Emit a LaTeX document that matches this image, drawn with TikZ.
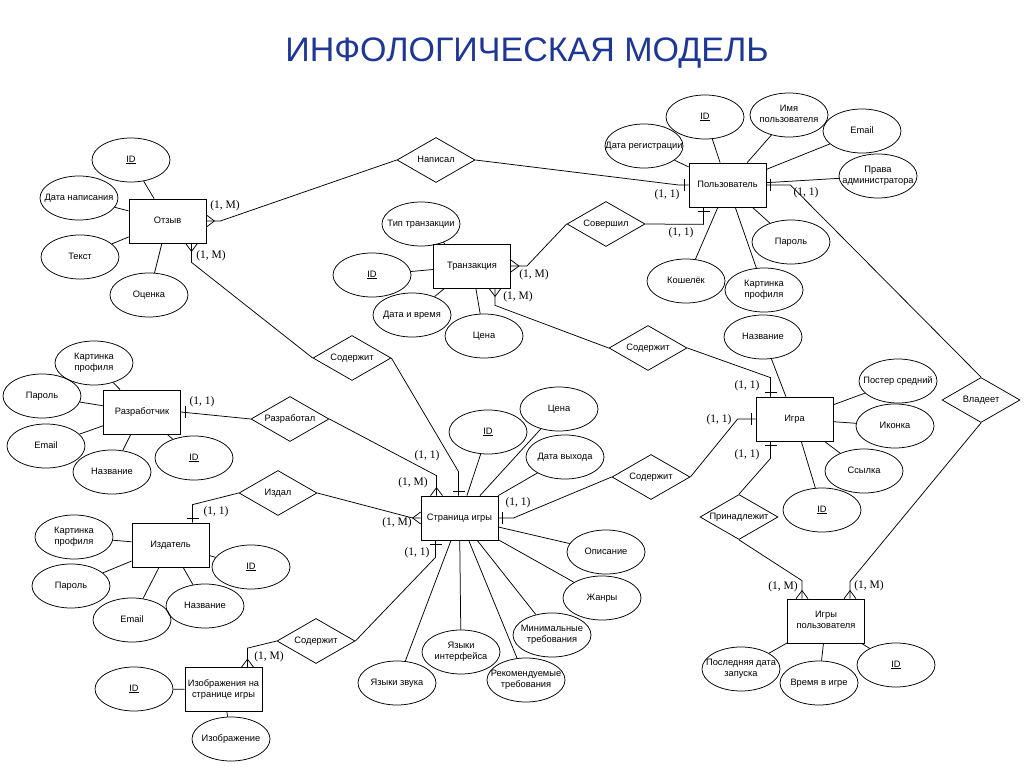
\documentclass[tikz,border=0pt]{standalone}
\usepackage{fontspec}
\setmainfont{Liberation Sans}
\newfontfamily\cardfont{Liberation Serif}
\usetikzlibrary{shapes.geometric,calc}
\definecolor{titleblue}{RGB}{30,55,150}
\newcommand{\erlabel}[1]{\makebox[0pt]{\begin{tabular}{@{}c@{}}#1\end{tabular}}}
\newcommand{\ermany}[2]{\draw[shift={#1},rotate=#2] (0,6) -- (8,0) -- (0,-6);}
\newcommand{\erone}[2]{\draw[shift={#1},rotate=#2] (4,6) -- (4,-6);}
\begin{document}
\begin{tikzpicture}[x=1pt,y=-1pt,line width=0.75pt,
  ent/.style={draw,rectangle,minimum width=77pt,minimum height=44pt,inner sep=0pt,font=\fontsize{9.3}{11}\selectfont},
  attr/.style={draw,ellipse,minimum width=78pt,minimum height=44pt,inner sep=0pt,font=\fontsize{9.3}{11}\selectfont},
  rel/.style={draw,diamond,minimum width=78pt,minimum height=45pt,inner sep=0pt,font=\fontsize{9.3}{11}\selectfont},
  card/.style={font=\cardfont\fontsize{11.5}{12}\selectfont,inner sep=0pt}]
\useasboundingbox (0,0) rectangle (1024,767);
\node[text=titleblue,font=\fontsize{34}{38}\selectfont] (ttl) at (527,53) {ИНФОЛОГИЧЕСКАЯ МОДЕЛЬ};

\node[ent] (otzyv) at (167.5,221) {\erlabel{Отзыв}};
\node[ent] (tranz) at (472,266) {\erlabel{Транзакция}};
\node[ent] (polz) at (727.5,185) {\erlabel{Пользователь}};
\node[ent] (razr) at (142,412) {\erlabel{Разработчик}};
\node[ent] (stran) at (459.5,518) {\erlabel{Страница игры}};
\node[ent] (igra) at (794.5,419) {\erlabel{Игра}};
\node[ent] (izd) at (170.5,545) {\erlabel{Издатель}};
\node[ent] (izobr) at (223.5,689.5) {\erlabel{Изображения на\\странице игры}};
\node[ent] (igrypolz) at (826,621) {\erlabel{Игры\\пользователя}};

\node[rel] (napisal) at (436,160) {\erlabel{Написал}};
\node[rel] (sovershil) at (606,224) {\erlabel{Совершил}};
\node[rel] (sod1) at (352,358) {\erlabel{Содержит}};
\node[rel] (sod2) at (648,348) {\erlabel{Содержит}};
\node[rel] (razrabotal) at (290,419) {\erlabel{Разработал}};
\node[rel] (izdal) at (278,493) {\erlabel{Издал}};
\node[rel] (sod3) at (651,477) {\erlabel{Содержит}};
\node[rel] (sod4) at (316,641) {\erlabel{Содержит}};
\node[rel] (prin) at (739,517) {\erlabel{Принадлежит}};
\node[rel] (vladeet) at (981,400) {\erlabel{Владеет}};

\node[attr] (o-id) at (131,160) {\erlabel{\underline{ID}}};
\node[attr] (o-data) at (79,198) {\erlabel{Дата написания}};
\node[attr] (o-text) at (80,257) {\erlabel{Текст}};
\node[attr] (o-ocenka) at (149,295) {\erlabel{Оценка}};

\node[attr] (t-tip) at (421,224) {\erlabel{Тип транзакции}};
\node[attr] (t-id) at (372,275) {\erlabel{\underline{ID}}};
\node[attr] (t-data) at (412,315) {\erlabel{Дата и время}};
\node[attr] (t-cena) at (484,336) {\erlabel{Цена}};

\node[attr] (p-id) at (705,117) {\erlabel{\underline{ID}}};
\node[attr] (p-imya) at (789,115) {\erlabel{Имя\\пользователя}};
\node[attr] (p-email) at (862,131) {\erlabel{Email}};
\node[attr] (p-data) at (644,146) {\erlabel{Дата регистрации}};
\node[attr] (p-prava) at (878,176) {\erlabel{Права\\администратора}};
\node[attr] (p-parol) at (791,242) {\erlabel{Пароль}};
\node[attr] (p-kosh) at (686,281) {\erlabel{Кошелёк}};
\node[attr] (p-kart) at (764,290) {\erlabel{Картинка\\профиля}};

\node[attr] (r-kart) at (94,363) {\erlabel{Картинка\\профиля}};
\node[attr] (r-parol) at (42,396) {\erlabel{Пароль}};
\node[attr] (r-email) at (46,446) {\erlabel{Email}};
\node[attr] (r-nazv) at (112,472) {\erlabel{Название}};
\node[attr] (r-id) at (194,458) {\erlabel{\underline{ID}}};

\node[attr] (s-id) at (488,432) {\erlabel{\underline{ID}}};
\node[attr] (s-cena) at (559,409) {\erlabel{Цена}};
\node[attr] (s-data) at (565,457) {\erlabel{Дата выхода}};
\node[attr] (s-opis) at (606,552) {\erlabel{Описание}};
\node[attr] (s-zhanr) at (602,598) {\erlabel{Жанры}};
\node[attr] (s-min) at (552,635) {\erlabel{Минимальные\\требования}};
\node[attr] (s-rek) at (526,680) {\erlabel{Рекомендуемые\\требования}};
\node[attr] (s-yint) at (461,652) {\erlabel{Языки\\интерфейса}};
\node[attr] (s-yzv) at (397,683) {\erlabel{Языки звука}};

\node[attr] (g-nazv) at (763,337) {\erlabel{Название}};
\node[attr] (g-poster) at (898,381) {\erlabel{Постер средний}};
\node[attr] (g-ikon) at (895,426) {\erlabel{Иконка}};
\node[attr] (g-ssyl) at (864,471) {\erlabel{Ссылка}};
\node[attr] (g-id) at (822,510) {\erlabel{\underline{ID}}};

\node[attr] (i-kart) at (74,537) {\erlabel{Картинка\\профиля}};
\node[attr] (i-parol) at (71,586) {\erlabel{Пароль}};
\node[attr] (i-email) at (132,620) {\erlabel{Email}};
\node[attr] (i-nazv) at (205,606) {\erlabel{Название}};
\node[attr] (i-id) at (251,567) {\erlabel{\underline{ID}}};

\node[attr] (im-id) at (134,689) {\erlabel{\underline{ID}}};
\node[attr] (im-img) at (231,739) {\erlabel{Изображение}};

\node[attr] (ip-last) at (741,669) {\erlabel{Последняя дата\\запуска}};
\node[attr] (ip-time) at (819,683) {\erlabel{Время в игре}};
\node[attr] (ip-id) at (896,665) {\erlabel{\underline{ID}}};

\draw (o-id) -- (otzyv) (o-data) -- (otzyv) (o-text) -- (otzyv) (o-ocenka) -- (otzyv);
\draw (t-tip) -- (tranz) (t-id) -- (tranz) (t-data) -- (tranz) (t-cena) -- (tranz);
\draw (p-id) -- (polz) (p-imya) -- (polz) (p-email) -- (polz) (p-data) -- (polz)
  (p-prava) -- (polz) (p-parol) -- (polz) (p-kosh) -- (polz) (p-kart) -- (polz);
\draw (r-kart) -- (razr) (r-parol) -- (razr) (r-email) -- (razr) (r-nazv) -- (razr) (r-id) -- (razr);
\draw (s-id) -- (stran) (s-cena) -- (stran) (s-data) -- (stran) (s-opis) -- (stran) (s-zhanr) -- (stran)
  (s-min) -- (stran) (s-rek) -- (stran) (s-yint) -- (stran) (s-yzv) -- (stran);
\draw (g-nazv) -- (igra) (g-poster) -- (igra) (g-ikon) -- (igra) (g-ssyl) -- (igra) (g-id) -- (igra);
\draw (i-kart) -- (izd) (i-parol) -- (izd) (i-email) -- (izd) (i-nazv) -- (izd) (i-id) -- (izd);
\draw (im-id) -- (izobr) (im-img) -- (izobr);
\draw (ip-last) -- (igrypolz) (ip-time) -- (igrypolz) (ip-id) -- (igrypolz);

\draw (otzyv.east) -- ++(14,0) -- (napisal.west);
\ermany{(otzyv.east)}{0}
\draw (napisal.east) -- ($(polz.west)+(-10,0)$) -- (polz.west);
\erone{(polz.west)}{180}
\draw (tranz.east) -- ++(16,0) -- (sovershil.west);
\ermany{(tranz.east)}{0}
\draw (sovershil.east) -- ($(polz.south)+(-24,17)$) -- ($(polz.south)+(-24,0)$);
\erone{($(polz.south)+(-24,0)$)}{-90}
\draw ($(tranz.south)+(23,0)$) -- ++(0,17) -- (sod2.west);
\ermany{($(tranz.south)+(23,0)$)}{-90}
\draw (sod2.east) -- ($(igra.north)+(-24,-19)$) -- ($(igra.north)+(-24,0)$);
\erone{($(igra.north)+(-24,0)$)}{90}
\draw (polz.east) -- ++(24,0) -- (vladeet.north);
\erone{(polz.east)}{0}
\draw (vladeet.south) -- ($(igrypolz.north)+(24,-17)$) -- ($(igrypolz.north)+(24,0)$);
\ermany{($(igrypolz.north)+(24,0)$)}{90}
\draw ($(igra.south)+(-24,0)$) -- ++(0,17) -- (prin.north);
\erone{($(igra.south)+(-24,0)$)}{-90}
\draw (prin.south) -- ($(igrypolz.north)+(-24,-18)$) -- ($(igrypolz.north)+(-24,0)$);
\ermany{($(igrypolz.north)+(-24,0)$)}{90}
\draw (stran.east) -- ++(15,0) -- (sod3.west);
\erone{(stran.east)}{0}
\draw (sod3.east) -- ($(igra.west)+(-18,0)$) -- (igra.west);
\erone{(igra.west)}{180}
\draw ($(otzyv.south)+(24,0)$) -- ++(0,19) -- (sod1.west);
\ermany{($(otzyv.south)+(24,0)$)}{-90}
\draw (sod1.east) -- ($(stran.north)+(-1,-24)$) -- ($(stran.north)+(-1,0)$);
\erone{($(stran.north)+(-1,0)$)}{90}
\draw (razr.east) -- (razrabotal.west);
\erone{(razr.east)}{0}
\draw (razrabotal.east) -- ($(stran.north)+(-23,-20)$) -- ($(stran.north)+(-23,0)$);
\ermany{($(stran.north)+(-23,0)$)}{90}
\draw ($(izd.north)+(22,0)$) -- ++(0,-18) -- (izdal.west);
\erone{($(izd.north)+(22,0)$)}{90}
\draw (izdal.east) -- ($(stran.west)+(-8,0)$) -- (stran.west);
\ermany{(stran.west)}{180}
\draw ($(stran.south)+(-24,0)$) -- ++(0,17) -- (sod4.east);
\erone{($(stran.south)+(-24,0)$)}{-90}
\draw (sod4.west) -- ($(izobr.north)+(24,-19)$) -- ($(izobr.north)+(24,0)$);
\ermany{($(izobr.north)+(24,0)$)}{90}

\node[card] (c-otzyv1) at (225,206) {(1, M)};
\node[card] (c-polz1) at (667,195) {(1, 1)};
\node[card] (c-tranz1) at (534,275) {(1, M)};
\node[card] (c-polz2) at (681,233) {(1, 1)};
\node[card] (c-tranz2) at (518,297) {(1, M)};
\node[card] (c-igra1) at (747,386) {(1, 1)};
\node[card] (c-polz3) at (806,193) {(1, 1)};
\node[card] (c-ip1) at (869,586) {(1, M)};
\node[card] (c-igra2) at (747,455) {(1, 1)};
\node[card] (c-ip2) at (783,587) {(1, M)};
\node[card] (c-stran1) at (518,503) {(1, 1)};
\node[card] (c-igra3) at (719,420) {(1, 1)};
\node[card] (c-otzyv2) at (211,256) {(1, M)};
\node[card] (c-stran2) at (427,456) {(1, 1)};
\node[card] (c-razr) at (202,402) {(1, 1)};
\node[card] (c-stran3) at (413,483) {(1, M)};
\node[card] (c-izd) at (216,512) {(1, 1)};
\node[card] (c-stran4) at (397,523) {(1, M)};
\node[card] (c-stran5) at (417,553) {(1, 1)};
\node[card] (c-izobr) at (269,657) {(1, M)};
\end{tikzpicture}
\end{document}
